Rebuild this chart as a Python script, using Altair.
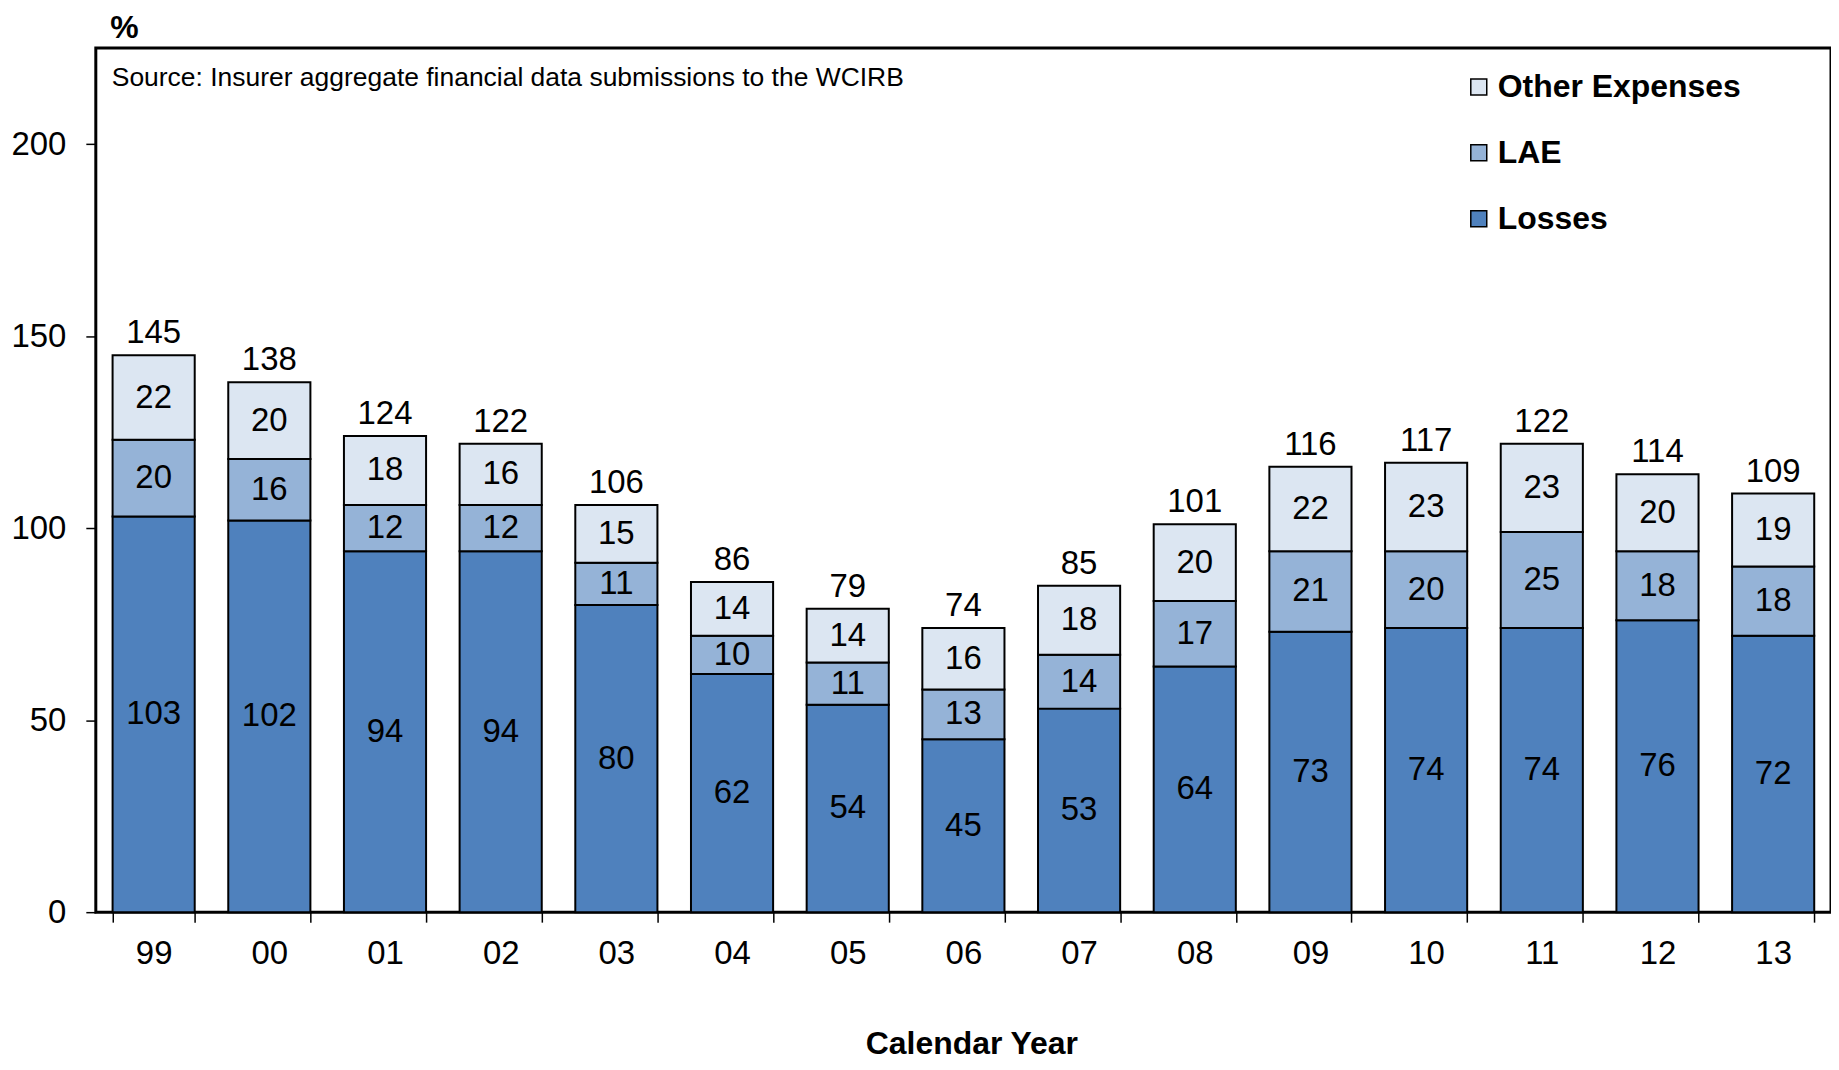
import altair as alt
import pandas as pd

years = ["99", "00", "01", "02", "03", "04", "05", "06", "07", "08", "09", "10", "11", "12", "13"]
losses = [103, 102, 94, 94, 80, 62, 54, 45, 53, 64, 73, 74, 74, 76, 72]
lae = [20, 16, 12, 12, 11, 10, 11, 13, 14, 17, 21, 20, 25, 18, 18]
other = [22, 20, 18, 16, 15, 14, 14, 16, 18, 20, 22, 23, 23, 20, 19]
series = ["Losses", "LAE", "Other Expenses"]
legend_order = ["Other Expenses", "LAE", "Losses"]
legend_colors = ["#DCE6F2", "#95B3D7", "#4F81BD"]
y_ticks = [0, 50, 100, 150, 200]
source_note = "Source: Insurer aggregate financial data submissions to the WCIRB"

rows = []
for i, yr in enumerate(years):
    for k, (name, vals) in enumerate(zip(series, [losses, lae, other])):
        rows.append({"year": yr, "series": name, "value": vals[i], "ord": k})
df = pd.DataFrame(rows)

FONT = "Liberation Sans"
W, H = 1739, 866

yscale = alt.Scale(domain=[0, 225], nice=False)
xscale = alt.Scale(paddingInner=0.29, paddingOuter=0.145)

xaxis = alt.Axis(
    title="Calendar Year", labelAngle=0, tickBand="extent", domain=False,
    tickSize=10, tickColor="black", tickWidth=1.5,
    labelFontSize=33, labelFont=FONT, labelColor="black", labelPadding=15,
    titleFontSize=32, titleFont=FONT, titleFontWeight="bold", titleColor="black",
    titleY=142, titleX=W / 2 + 8, titleAlign="center", titleBaseline="alphabetic",
)
yaxis = alt.Axis(
    title="%", titleAngle=0, titleX=14, titleY=-11, titleAlign="left",
    titleBaseline="alphabetic", titleFontSize=32, titleFont=FONT,
    titleFontWeight="bold", titleColor="black",
    values=y_ticks, grid=False, domain=False, tickSize=10, tickColor="black",
    tickWidth=1.5, labelFontSize=33, labelFont=FONT, labelColor="black",
    labelPadding=20,
)

X = alt.X("year:N", sort=years, scale=xscale, axis=xaxis)

base = alt.Chart(df).transform_stack(
    stack="value", groupby=["year"], as_=["v0", "v1"],
    sort=[alt.SortField("ord", order="ascending")],
).transform_calculate(mid="(datum.v0 + datum.v1) / 2")

bars = base.mark_bar(stroke="black", strokeWidth=2).encode(
    x=X,
    y=alt.Y("v0:Q", scale=yscale, axis=yaxis),
    y2="v1:Q",
    color=alt.Color(
        "series:N",
        scale=alt.Scale(domain=legend_order, range=legend_colors),
        legend=alt.Legend(
            title=None, orient="none", legendX=1370, legendY=23,
            symbolType="square", symbolSize=256, symbolStrokeColor="black",
            symbolStrokeWidth=1.5, symbolOpacity=1, labelLimit=500,
            labelFont=FONT, labelFontSize=32, labelFontWeight="bold",
            labelColor="black", rowPadding=34, labelOffset=3,
        ),
    ),
)

seg_labels = base.mark_text(font=FONT, fontSize=33, baseline="middle", color="black").encode(
    x=X,
    y=alt.Y("mid:Q", scale=yscale, axis=yaxis),
    text="value:Q",
)

totals = alt.Chart(df).mark_text(
    font=FONT, fontSize=33, baseline="alphabetic", dy=-12, color="black"
).encode(
    x=X,
    y=alt.Y("sum(value):Q", scale=yscale, axis=yaxis),
    text="sum(value):Q",
)

note = alt.Chart(pd.DataFrame({"t": [source_note]})).mark_text(
    align="left", baseline="alphabetic", fontSize=26.5, font=FONT, color="black"
).encode(x=alt.value(16), y=alt.value(38), text="t:N")

chart = alt.layer(bars, seg_labels, totals, note).properties(
    width=W, height=H, padding={"left": 2, "top": 2, "right": 0, "bottom": 0}
).configure_view(stroke="black", strokeWidth=3)

chart.save("out.html", embed_options={"renderer": "svg", "actions": False})
